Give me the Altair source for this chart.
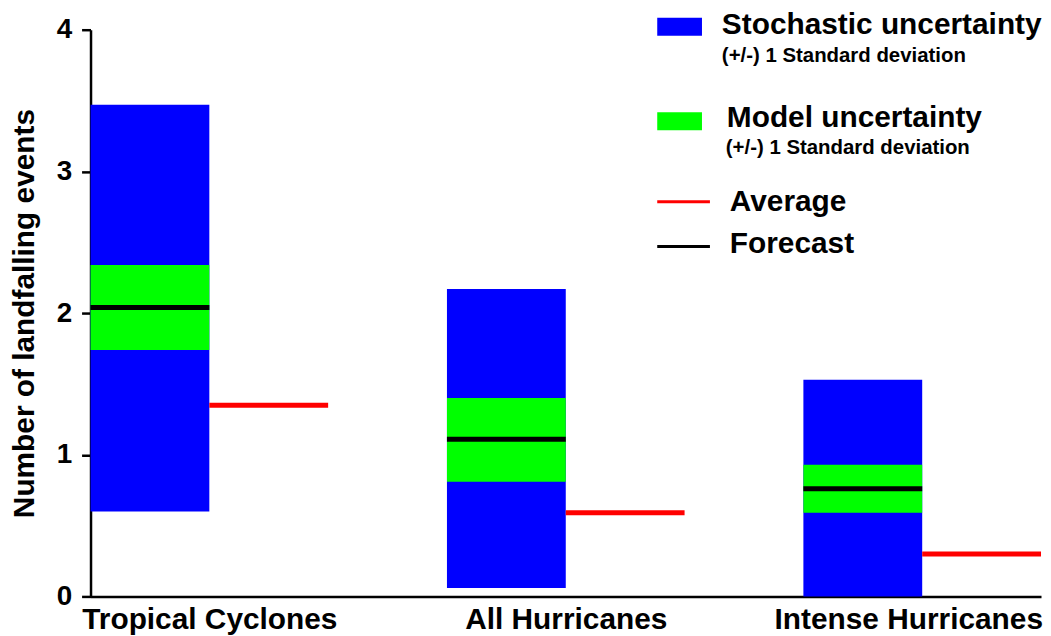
import json
import altair as alt
import pandas as pd

categories = ["Tropical Cyclones", "All Hurricanes", "Intense Hurricanes"]
stoch_low = [0.60, 0.06, 0.0]
stoch_high = [3.47, 2.17, 1.53]
model_low = [1.74, 0.81, 0.59]
model_high = [2.34, 1.40, 0.93]
forecast = [2.04, 1.11, 0.76]
average = [1.35, 0.59, 0.30]
y_ticks = [0, 1, 2, 3, 4]

df = pd.DataFrame({
    "category": categories,
    "idx": list(range(len(categories))),
    "stoch_low": stoch_low,
    "stoch_high": stoch_high,
    "model_low": model_low,
    "model_high": model_high,
    "forecast": forecast,
    "average": average,
})

W, H = 956, 570
FONT = "Liberation Sans"
XMAX = 8.0

xscale = alt.Scale(domain=[0, XMAX], nice=False, zero=False)
yscale = alt.Scale(domain=[0, 4], nice=False)

label_expr = json.dumps(categories) + "[round((datum.value - 1) / 3)]"

base = alt.Chart(df).transform_calculate(
    x0="datum.idx * 3", x1="datum.idx * 3 + 1", x2="datum.idx * 3 + 2"
)

stoch = base.mark_rect(color="#0000ff").encode(
    x=alt.X("x0:Q", scale=xscale,
            axis=alt.Axis(values=[1, 4, 7], labelExpr=label_expr, ticks=False,
                          grid=False, title=None, labelFont=FONT, labelFontSize=30,
                          labelFontWeight="bold", labelColor="black", labelPadding=8,
                          labelLimit=0, labelOverlap=False, labelBound=False,
                          domainColor="black", domainWidth=2.5,
                          labelOffset={"condition": {"test": "datum.value > 6", "value": -14}, "value": 0})),
    x2="x1:Q",
    y=alt.Y("stoch_low:Q", scale=yscale,
            axis=alt.Axis(values=y_ticks, format="d", grid=False, title="Number of landfalling events",
                          labelFont=FONT, labelFontSize=28, labelFontWeight="bold",
                          labelColor="black", labelPadding=10, tickSize=9, tickWidth=2.5,
                          tickColor="black", domainColor="black", domainWidth=2.5,
                          titleFont=FONT, titleFontSize=30, titleFontWeight="bold",
                          titleColor="black", titlePadding=17)),
    y2="stoch_high:Q",
)

model = base.mark_rect(color="#00ff00").encode(
    x="x0:Q", x2="x1:Q", y="model_low:Q", y2="model_high:Q"
)

fc = base.mark_rule(color="black", strokeWidth=5).encode(
    x="x0:Q", x2="x1:Q", y="forecast:Q"
)

avg = base.mark_rule(color="#ff0000", strokeWidth=5).encode(
    x="x1:Q", x2="x2:Q", y="average:Q"
)

one = pd.DataFrame({"a": [0]})
OX, OY = 91, 28  # plot origin in page coords (for legend placement)

def rect(x0, y0, x1, y1, color):
    return alt.Chart(one).mark_rect(color=color).encode(
        x=alt.value(x0 - OX), x2=alt.value(x1 - OX),
        y=alt.value(y0 - OY), y2=alt.value(y1 - OY))

def line(x0, x1, y, color):
    return alt.Chart(one).mark_rule(color=color, strokeWidth=3).encode(
        x=alt.value(x0 - OX), x2=alt.value(x1 - OX), y=alt.value(y - OY))

def text(s, x, y, size):
    return alt.Chart(one).mark_text(text=s, font=FONT, fontSize=size, fontWeight="bold",
                                    align="left", baseline="alphabetic", color="black").encode(
        x=alt.value(x - OX), y=alt.value(y - OY))

legend = [
    rect(661, 16, 706, 34, "#0000ff"),
    text("Stochastic uncertainty", 726, 32, 30),
    text("(+/-) 1 Standard deviation", 726, 60, 20.5),
    rect(661, 111, 706, 129, "#00ff00"),
    text("Model uncertainty", 731, 126, 30),
    text("(+/-) 1 Standard deviation", 730, 153, 20.5),
    line(661, 714, 201, "#ff0000"),
    text("Average", 734, 210, 30),
    line(661, 714, 246, "black"),
    text("Forecast", 734, 253, 30),
]

chart = alt.layer(stoch, model, fc, avg, *legend).properties(
    width=W, height=H,
    autosize=alt.AutoSizeParams(type="none"),
    padding={"left": 83, "top": 20, "right": 2, "bottom": 44},
).configure_view(stroke=None)

chart.save("out.html", embed_options={"renderer": "svg", "actions": False})
